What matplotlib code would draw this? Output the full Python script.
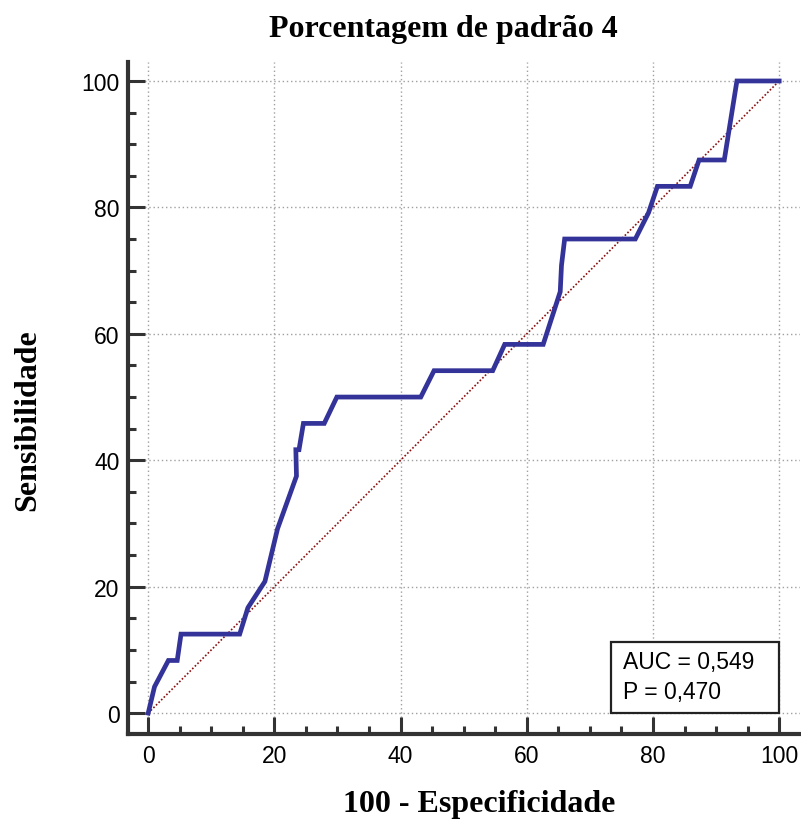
import matplotlib
matplotlib.use("Agg")
import matplotlib.pyplot as plt
from matplotlib.patches import Rectangle
from matplotlib.ticker import MultipleLocator

# ---- data ----
fpr = [0, 1.0, 3.2, 4.6, 5.2, 14.5, 15.8, 18.5, 20.5, 23.5, 23.4, 23.9, 24.6, 27.9,
       29.9, 43.2, 45.3, 54.6, 56.5, 62.6, 65.3, 65.5, 66.0, 77.2, 79.3, 80.7,
       85.9, 87.3, 91.3, 93.3, 100]
tpr = [0, 4.17, 8.33, 8.33, 12.5, 12.5, 16.67, 20.83, 29.17, 37.5, 41.67, 41.67,
       45.83, 45.83, 50, 50, 54.17, 54.17, 58.33, 58.33, 66.67, 70.83, 75, 75,
       79.17, 83.33, 83.33, 87.5, 87.5, 100, 100]
diag = [0, 100]
major_ticks = [0, 20, 40, 60, 80, 100]
title = "Porcentagem de padrão 4"
xlabel = "100 - Especificidade"
ylabel = "Sensibilidade"
auc_text = "AUC = 0,549"
p_text = "P = 0,470"

W, H = 801, 820
fig = plt.figure(figsize=(W / 100, H / 100), dpi=100)
ax = fig.add_axes([128 / W, (H - 735) / H, 672 / W, 672 / H])

ax.set_xlim(-3.2, 103.3)
ax.set_ylim(-3.3, 103.0)

for s in ("top", "right"):
    ax.spines[s].set_visible(False)
for s in ("left", "bottom"):
    ax.spines[s].set_linewidth(3)
    ax.spines[s].set_color("#333333")

ax.xaxis.set_minor_locator(MultipleLocator(5))
ax.yaxis.set_minor_locator(MultipleLocator(5))
ax.set_xticks(major_ticks)
ax.set_yticks(major_ticks)
ax.set_xticklabels([str(t) for t in major_ticks])
ax.set_yticklabels([str(t) for t in major_ticks])

ax.tick_params(which="major", direction="in", length=12, width=2.2, color="#333333",
               labelsize=16.5, labelcolor="black")
ax.tick_params(which="minor", direction="in", length=6, width=2.2, color="#333333")
ax.tick_params(axis="x", which="major", pad=7)
ax.tick_params(axis="y", which="major", pad=6)
for lab in ax.get_xticklabels() + ax.get_yticklabels():
    lab.set_family("Liberation Sans")

ax.grid(True, which="major", linestyle=(0, (1, 2)), color="#a0a0a0", linewidth=1.0)
ax.set_axisbelow(True)

ax.plot(diag, diag, linestyle=(0, (1, 1.2)), color="#8b1010", linewidth=1.2, zorder=2)
ax.plot(fpr, tpr, color="#333399", linewidth=3.4, solid_joinstyle="miter", zorder=3)

box = Rectangle((73.4, 0), 100 - 73.4, 11.2, facecolor="white", edgecolor="#222222",
                linewidth=1.6, zorder=4)
ax.add_patch(box)
ax.text(75.2, 8.2, auc_text, fontsize=16.5, family="Liberation Sans", va="center",
        ha="left", zorder=5)
ax.text(75.2, 3.5, p_text, fontsize=16.5, family="Liberation Sans", va="center",
        ha="left", zorder=5)

fig.text(443 / W, 1 - 37 / H, title, fontsize=23, fontweight="bold",
         family="Liberation Serif", ha="center", va="baseline")
fig.text(479 / W, 1 - 812 / H, xlabel, fontsize=23, fontweight="bold",
         family="Liberation Serif", ha="center", va="baseline")
fig.text(28 / W, 1 - 420 / H, ylabel, fontsize=23, fontweight="bold",
         family="Liberation Serif", ha="center", va="center", rotation=90)

fig.savefig("out.png", dpi=100)
